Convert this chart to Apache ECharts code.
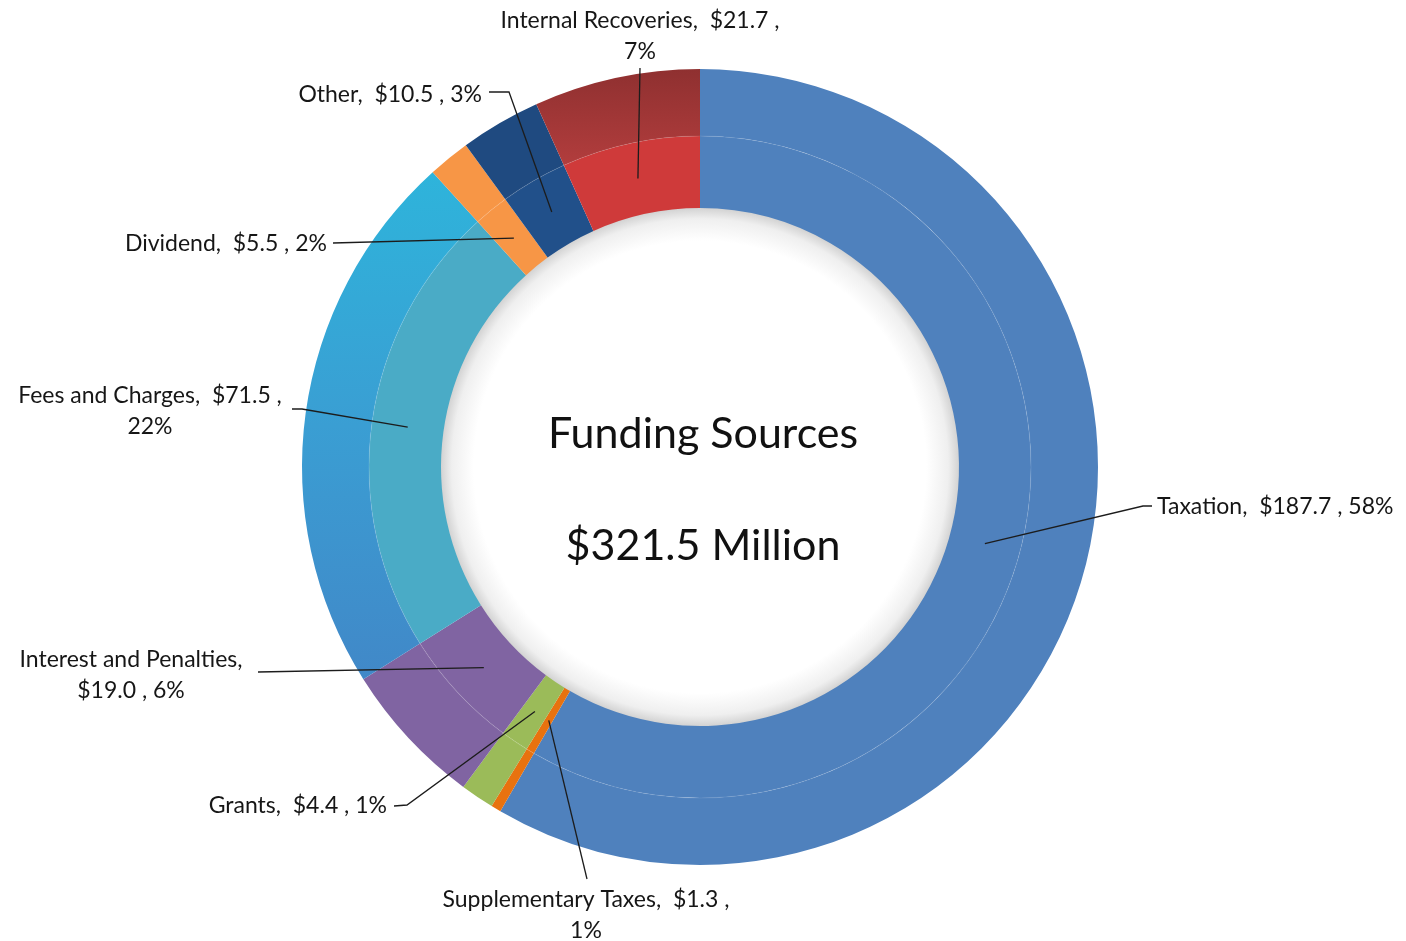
<!DOCTYPE html>
<html>
<head>
<meta charset="utf-8">
<title>Funding Sources</title>
<script src="https://cdn.jsdelivr.net/npm/echarts@6/dist/echarts.min.js"></script>
<style>
  html, body { margin: 0; padding: 0; background: #ffffff; }
  #chart { width: 1406px; height: 941px; }
</style>
</head>
<body>
<div id="chart"></div>
<script>
// Funding sources, $ millions, clockwise from 12 o'clock
const categories = ['Taxation', 'Supplementary Taxes', 'Grants', 'Interest and Penalties',
                    'Fees and Charges', 'Dividend', 'Other', 'Internal Recoveries'];
const amounts = [187.7, 1.3, 4.4, 19.0, 71.5, 5.5, 10.5, 21.7];
const percents = [58, 1, 1, 6, 22, 2, 3, 7];
const chartTitle = 'Funding Sources';
const totalLabel = '$321.5 Million';

// Ring geometry (px)
const CX = 700, CY = 467;
const R_HOLE = 259, R_BEVEL = 331, R_OUT = 398, R_LABEL = 295;

// Colours of the inner and outer band of each slice
const innerColors = ['#4F81BD', '#E8720F', '#9BBB59', '#8064A2', '#4AABC6', '#F79646', '#21508A', '#CF3A3A'];
const outerColors = ['#4F81BD', '#E8720F', '#9BBB59', '#8064A2',
  { type: 'linear', x: 0, y: 0, x2: 0, y2: 1, colorStops: [
    { offset: 0, color: '#2EB4DB' }, { offset: 0.5, color: '#3A9ED3' }, { offset: 1, color: '#4188C8' }] },
  '#F79646', '#1F4A80',
  { type: 'linear', x: 0, y: 0, x2: 0, y2: 1, colorStops: [
    { offset: 0, color: '#8F3030' }, { offset: 1, color: '#B23D3D' }] }];

// Where each callout's text sits and how its leader line bends
const labelPlacement = [
  { x: 1157, y: 507, align: 'left',   wrap: 'none',      bend: [[1143, 506], [1152, 506]] },
  { x: 586,  y: 915, align: 'center', wrap: 'beforePct', bend: [[587, 879], [587, 879]] },
  { x: 387,  y: 806, align: 'right',  wrap: 'none',      bend: [[407, 805], [394, 806]] },
  { x: 131,  y: 675, align: 'center', wrap: 'afterName', bend: [[258, 672], [258, 672]] },
  { x: 150,  y: 411, align: 'center', wrap: 'beforePct', bend: [[302, 409], [292, 409]] },
  { x: 327,  y: 244, align: 'right',  wrap: 'none',      bend: [[333, 243], [333, 243]] },
  { x: 482,  y: 95,  align: 'right',  wrap: 'none',      bend: [[509, 92], [489, 92]] },
  { x: 640,  y: 36,  align: 'center', wrap: 'beforePct', bend: [[640, 68], [640, 68]] }
];

function labelText(i) {
  const name = categories[i] + ',';
  const val = '$' + amounts[i].toFixed(1);
  const pct = percents[i] + '%';
  const w = labelPlacement[i].wrap;
  if (w === 'afterName') return name + '\n' + val + ' , ' + pct;
  if (w === 'beforePct') return name + '  ' + val + ' ,\n' + pct;
  return name + '  ' + val + ' , ' + pct;
}

// Fallback start of a leader line: middle of the slice at R_LABEL
function sliceMid(i) {
  const total = amounts.reduce((a, b) => a + b, 0);
  let before = 0;
  for (let k = 0; k < i; k++) before += amounts[k];
  const a = (before + amounts[i] / 2) / total * Math.PI * 2;
  return [CX + R_LABEL * Math.sin(a), CY - R_LABEL * Math.cos(a)];
}

function pieData(colors) {
  return categories.map((name, i) => ({
    name: name,
    value: amounts[i],
    itemStyle: { color: colors ? colors[i] : 'rgba(0,0,0,0)' }
  }));
}

const ringBase = {
  type: 'pie',
  center: [CX, CY],
  startAngle: 90,
  clockwise: true,
  silent: true,
  avoidLabelOverlap: false,
  padAngle: 0,
  minAngle: 0,
  label: { show: false },
  labelLine: { show: false },
  emphasis: { disabled: true },
  animation: false,
  itemStyle: { borderWidth: 0 }
};

const chart = echarts.init(document.getElementById('chart'), null, { renderer: 'canvas' });

chart.setOption({
  backgroundColor: '#ffffff',
  animation: false,
  graphic: [
    {
      type: 'circle',
      z: 1,
      silent: true,
      shape: { cx: CX, cy: CY, r: R_HOLE + 1 },
      style: {
        fill: {
          type: 'radial', x: 0.5, y: 0.5, r: 0.5,
          colorStops: [
            { offset: 0, color: '#ffffff' },
            { offset: 0.87, color: '#ffffff' },
            { offset: 0.955, color: '#efefef' },
            { offset: 1, color: '#d0d0d0' }
          ]
        }
      }
    },
    {
      type: 'circle',
      z: 20,
      silent: true,
      shape: { cx: CX, cy: CY, r: R_BEVEL },
      style: { fill: null, stroke: 'rgba(255,255,255,0.09)', lineWidth: 1.2 }
    },
    {
      type: 'text',
      z: 30,
      silent: true,
      x: CX + 3,
      y: 434,
      style: {
        text: chartTitle, fontFamily: 'Lato', fontSize: 43, fill: '#111111',
        align: 'center', verticalAlign: 'middle', textAlign: 'center', textVerticalAlign: 'middle'
      }
    },
    {
      type: 'text',
      z: 30,
      silent: true,
      x: CX + 3,
      y: 546,
      style: {
        text: totalLabel, fontFamily: 'Lato', fontSize: 43, fill: '#111111',
        align: 'center', verticalAlign: 'middle', textAlign: 'center', textVerticalAlign: 'middle'
      }
    }
  ],
  series: [
    Object.assign({}, ringBase, {
      name: 'inner band',
      z: 2,
      radius: [R_HOLE, R_BEVEL],
      data: pieData(innerColors)
    }),
    Object.assign({}, ringBase, {
      name: 'outer band',
      z: 2,
      radius: [R_BEVEL, R_OUT],
      data: pieData(outerColors)
    }),
    Object.assign({}, ringBase, {
      name: 'callouts',
      z: 40,
      radius: [0, R_LABEL],
      data: pieData(null),
      label: {
        show: true,
        position: 'outside',
        formatter: (p) => labelText(p.dataIndex),
        color: '#161616',
        fontFamily: 'Lato',
        fontSize: 23,
        lineHeight: 31
      },
      labelLine: {
        show: true,
        smooth: false,
        lineStyle: { color: '#1c1c1c', width: 1.3 }
      },
      labelLayout: function (p) {
        const pl = labelPlacement[p.dataIndex];
        const start = (p.labelLinePoints && p.labelLinePoints[0]) ? p.labelLinePoints[0] : sliceMid(p.dataIndex);
        return {
          x: pl.x,
          y: pl.y,
          align: pl.align,
          verticalAlign: 'middle',
          labelLinePoints: [start, pl.bend[0], pl.bend[1]]
        };
      }
    })
  ]
});
</script>
</body>
</html>
